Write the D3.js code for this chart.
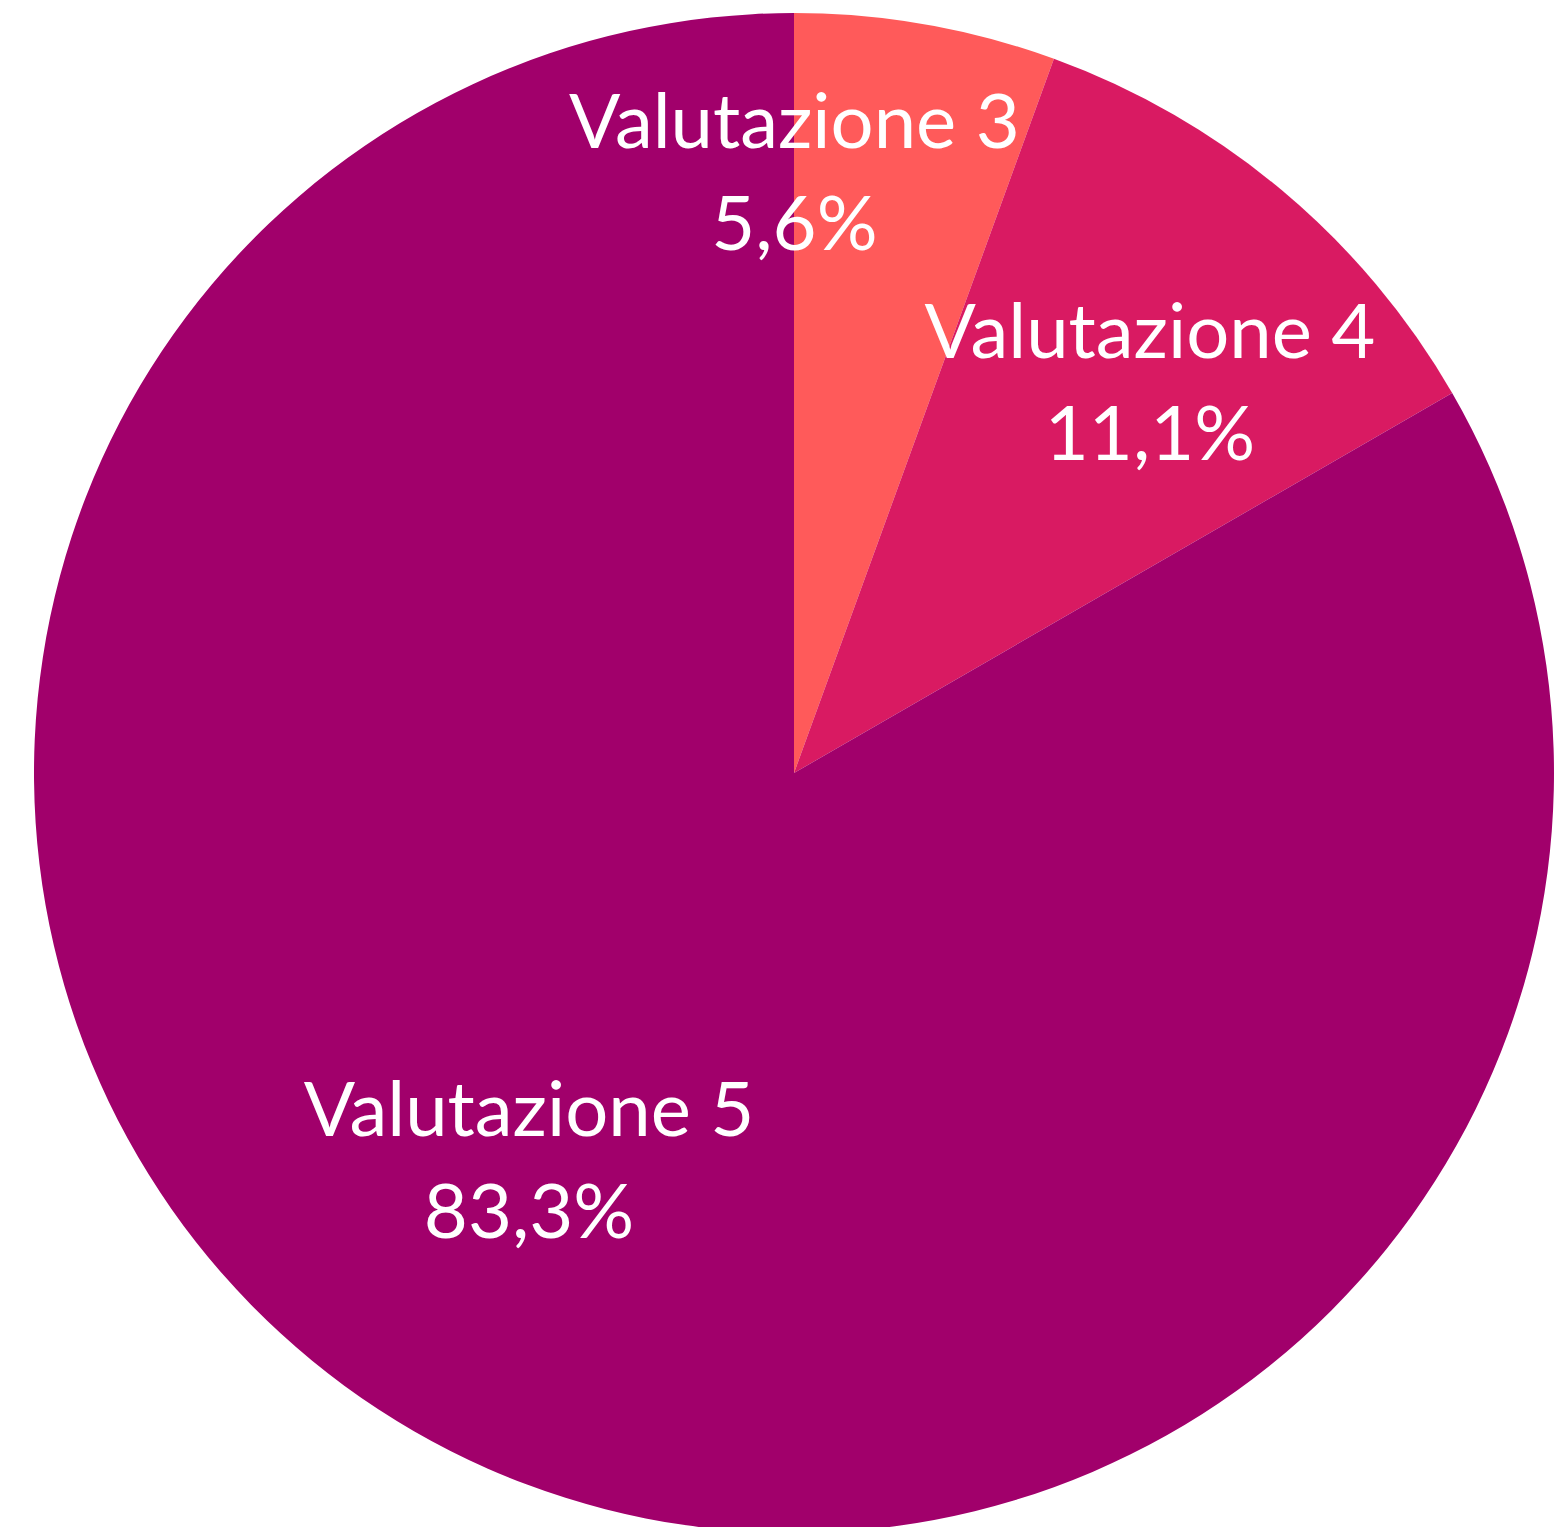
<!DOCTYPE html>
<html>
<head>
<meta charset="utf-8">
<script src="https://cdn.jsdelivr.net/npm/d3@7"></script>
<style>
  body { margin: 0; background: #fff; }
  svg { display: block; }
</style>
</head>
<body>
<svg id="chart"></svg>
<script>
// Data
var categories = ["Valutazione 3", "Valutazione 4", "Valutazione 5"];
var values = [1, 2, 15];
var percentLabels = ["5,6%", "11,1%", "83,3%"];
var colors = ["#FF5A5A", "#D91A62", "#A1006B"];

var width = 1567, height = 1527;
var cx = 794, cy = 773, radius = 760;

var svg = d3.select("#chart")
    .attr("width", width)
    .attr("height", height);

var g = svg.append("g")
    .attr("transform", "translate(" + cx + "," + cy + ")");

var pie = d3.pie().sort(null).value(function(d) { return d.value; });
var arc = d3.arc().innerRadius(0).outerRadius(radius);

var color = d3.scaleOrdinal().domain(categories).range(colors);

var data = categories.map(function(c, i) {
    return { name: c, value: values[i], pct: percentLabels[i] };
});
var arcs = pie(data);

g.selectAll("path.slice")
    .data(arcs)
    .enter().append("path")
    .attr("class", "slice")
    .attr("d", arc)
    .style("fill", function(d) { return color(d.data.name); });

// label placement: centroid on an inner arc, nudged like the original
var labelArc = d3.arc().innerRadius(0).outerRadius(radius * 1.4);
var nudge = {
    "Valutazione 3": [-92, -77],
    "Valutazione 4": [14, 17],
    "Valutazione 5": [1, -74]
};

var labels = g.selectAll("g.label")
    .data(arcs)
    .enter().append("g")
    .attr("class", "label")
    .attr("transform", function(d) {
        var c = labelArc.centroid(d);
        var n = nudge[d.data.name];
        return "translate(" + (c[0] + n[0]) + "," + (c[1] + n[1]) + ")";
    });

labels.append("text")
    .attr("y", -24)
    .style("text-anchor", "middle")
    .style("font-family", "Lato")
    .style("font-size", "76px")
    .style("fill", "#fff")
    .text(function(d) { return d.data.name; });

labels.append("text")
    .attr("y", 78)
    .style("text-anchor", "middle")
    .style("font-family", "Lato")
    .style("font-size", "76px")
    .style("fill", "#fff")
    .text(function(d) { return d.data.pct; });
</script>
</body>
</html>
